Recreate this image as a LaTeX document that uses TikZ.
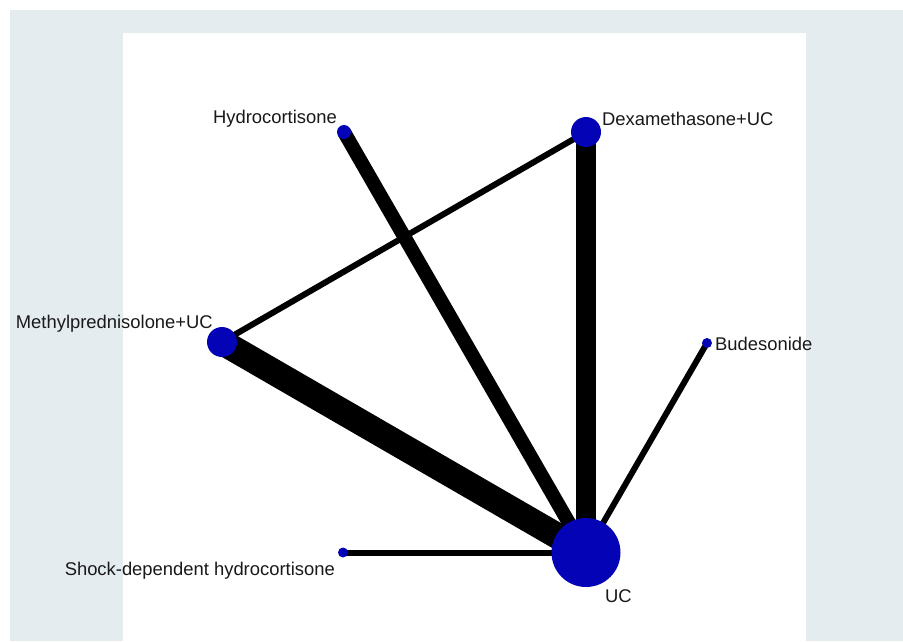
\documentclass[tikz,border=0pt]{standalone}
\usepackage{fontspec}
\setmainfont{Liberation Sans}
\pgfdeclarelayer{bg}
\pgfdeclarelayer{edges}
\pgfsetlayers{bg,edges,main}
\definecolor{pagegray}{RGB}{228,236,240}
\definecolor{nodeblue}{RGB}{4,4,182}
\definecolor{labeltext}{RGB}{25,25,25}
\tikzset{
  trt/.style={circle, fill=nodeblue, inner sep=0pt, minimum size=#1},
  lbl/.style={inner sep=0pt, text=labeltext, font=\fontsize{18.4}{20}\selectfont},
  link/.style={line width=#1, line cap=butt, draw=black}
}
\begin{document}
\begin{tikzpicture}[x=1pt,y=-1pt]
\useasboundingbox (0,0) rectangle (903,641);
\begin{pgfonlayer}{bg}
  \fill[white] (0,0) rectangle (903,641);
  \fill[pagegray] (10,10) rectangle (903,641);
  \fill[white] (123,33) rectangle (806,641);
\end{pgfonlayer}
% treatment nodes
\node[trt=14pt] (hc) at (344,132) {};
\node[trt=30pt] (dex) at (586,132) {};
\node[trt=30pt] (mp) at (222,342) {};
\node[trt=10pt] (bud) at (707,343) {};
\node[trt=10pt] (shock) at (343,552.5) {};
\node[trt=69pt] (uc) at (586,552.5) {};
% labels
\node[lbl, anchor=base east] (hcl) at (337,123) {Hydrocortisone};
\node[lbl, anchor=base west] (dexl) at (602,125) {Dexamethasone+UC};
\node[lbl, anchor=base east] (mpl) at (213,328) {Methylprednisolone+UC};
\node[lbl, anchor=base west] (budl) at (715,350) {Budesonide};
\node[lbl, anchor=base east] (shockl) at (335,575) {Shock-dependent hydrocortisone};
\node[lbl, anchor=base west] (ucl) at (605,602) {UC};
% connectors
\begin{pgfonlayer}{edges}
  \draw[link=14pt] (hc.center) -- (uc.center);
  \draw[link=20pt] (dex.center) -- (uc.center);
  \draw[link=26pt] (mp.center) -- (uc.center);
  \draw[link=6pt] (mp.center) -- (dex.center);
  \draw[link=6pt] (bud.center) -- (uc.center);
  \draw[link=6pt] (shock.center) -- (uc.center);
\end{pgfonlayer}
\end{tikzpicture}
\end{document}
